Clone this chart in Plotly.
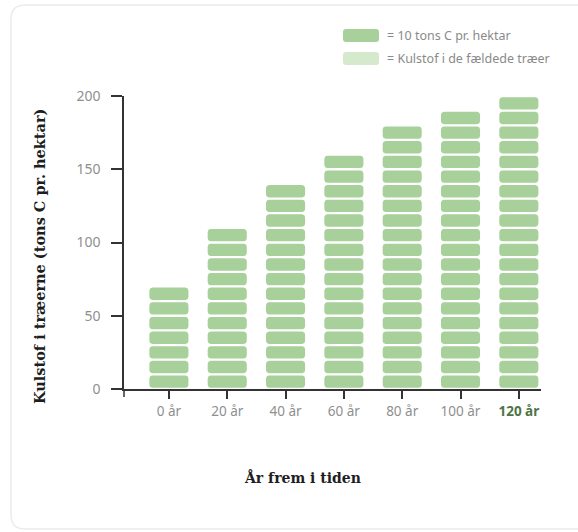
import math
import plotly.graph_objects as go

# ---- data -------------------------------------------------------------
years = ["0 år", "20 år", "40 år", "60 år", "80 år", "100 år", "120 år"]
carbon = [70, 110, 140, 160, 180, 190, 200]   # tons C pr. hektar
block = 10                                      # one block = 10 tons C pr. hektar
y_ticks = [0, 50, 100, 150, 200]
legend_labels = ["= 10 tons C pr. hektar", "= Kulstof i de fældede træer"]

# ---- style --------------------------------------------------------------
W, H = 578, 532
M = dict(l=124, r=37, t=96, b=143)
X_RANGE = [-0.77, 6.38]
Y_RANGE = [0, 200]
GREEN = "#a8d09a"
LIGHT_GREEN = "#d5eacd"
AXIS = "#333333"
TICK_GREY = "#8f8f8f"
SANS = "Noto Sans, Open Sans, sans-serif"
SERIF = "DejaVu Serif, Liberation Serif, serif"

plot_w = W - M["l"] - M["r"]
plot_h = H - M["t"] - M["b"]
px_x = plot_w / (X_RANGE[1] - X_RANGE[0])   # pixels per category step
px_y = plot_h / (Y_RANGE[1] - Y_RANGE[0])   # pixels per ton


def rounded_rect(x0, x1, y0, y1, rx, ry, n=5):
    """Closed outline of a rounded rectangle (data units)."""
    xs, ys = [], []
    corners = [
        (x1 - rx, y1 - ry, 0.0),
        (x0 + rx, y1 - ry, 0.5 * math.pi),
        (x0 + rx, y0 + ry, math.pi),
        (x1 - rx, y0 + ry, 1.5 * math.pi),
    ]
    for cx, cy, a0 in corners:
        for i in range(n + 1):
            a = a0 + (math.pi / 2) * i / n
            xs.append(cx + rx * math.cos(a))
            ys.append(cy + ry * math.sin(a))
    xs.append(xs[0])
    ys.append(ys[0])
    return xs, ys


bar_w = 0.67
gap = 1.6
rx = 3.0 / px_x
ry = 3.0 / px_y

seg_x, seg_y = [], []
for i, total in enumerate(carbon):
    for k in range(int(total // block)):
        xs, ys = rounded_rect(i - bar_w / 2, i + bar_w / 2,
                              k * block + gap / 2, (k + 1) * block - gap / 2,
                              rx, ry)
        seg_x += xs + [None]
        seg_y += ys + [None]

fig = go.Figure()
fig.add_trace(go.Scatter(
    x=seg_x, y=seg_y, mode="lines", fill="toself",
    fillcolor=GREEN, line=dict(width=0, color=GREEN),
    hoverinfo="skip", showlegend=False,
))


def px_to_paper(px, py):
    return (px - M["l"]) / plot_w, (H - M["b"] - py) / plot_h


def pt(x, y):
    a, b = px_to_paper(x, y)
    return f"{a:.5f},{b:.5f}"


def paper_round_rect(px0, py0, px1, py1, r):
    """SVG path of a rounded rectangle given in pixels, expressed in paper units."""
    return (f"M{pt(px0 + r, py0)} L{pt(px1 - r, py0)} Q{pt(px1, py0)} {pt(px1, py0 + r)} "
            f"L{pt(px1, py1 - r)} Q{pt(px1, py1)} {pt(px1 - r, py1)} "
            f"L{pt(px0 + r, py1)} Q{pt(px0, py1)} {pt(px0, py1 - r)} "
            f"L{pt(px0, py0 + r)} Q{pt(px0, py0)} {pt(px0 + r, py0)} Z")


shapes = []
# card outline: top, left and bottom edges; the right edge lies beyond the page
cl, ct, cb, cr = 11, 5, 529, 14
card = (f"M{pt(W + 20, ct)} L{pt(cl + cr, ct)} Q{pt(cl, ct)} {pt(cl, ct + cr)} "
        f"L{pt(cl, cb - cr)} Q{pt(cl, cb)} {pt(cl + cr, cb)} L{pt(W + 20, cb)}")
shapes.append(dict(type="path", xref="paper", yref="paper", layer="below",
                   path=card, line=dict(color="#ececec", width=1.5)))
# y-axis line continues a little below the x-axis
_, y_low = px_to_paper(0, H - M["b"] + 8)
shapes.append(dict(type="line", xref="paper", yref="paper", x0=0, x1=0,
                   y0=0, y1=y_low, line=dict(color=AXIS, width=1.5)))

# legend swatches and texts
annotations = []
for j, (lab, col) in enumerate(zip(legend_labels, [GREEN, LIGHT_GREEN])):
    top = 29 + 23 * j
    shapes.append(dict(type="path", xref="paper", yref="paper",
                       path=paper_round_rect(343, top, 379, top + 13, 3),
                       line=dict(width=0), fillcolor=col))
    ax, ay = px_to_paper(385, top + 6.5)
    annotations.append(dict(xref="paper", yref="paper", x=ax, y=ay,
                            xanchor="left", yanchor="middle", showarrow=False,
                            text=lab, font=dict(family=SANS, size=12.5, color="#8a8a8a")))

# axis titles
tx, ty = px_to_paper(39, 257)
annotations.append(dict(xref="paper", yref="paper", x=tx, y=ty, textangle=-90,
                        xanchor="center", yanchor="middle", showarrow=False,
                        text="<b>Kulstof i træerne (tons C pr. hektar)</b>",
                        font=dict(family=SERIF, size=14.5, color="#1e1e1e")))
tx, ty = px_to_paper(302, 477)
annotations.append(dict(xref="paper", yref="paper", x=tx, y=ty,
                        xanchor="center", yanchor="middle", showarrow=False,
                        text="<b>År frem i tiden</b>",
                        font=dict(family=SERIF, size=14, color="#1e1e1e")))

tick_text = [f"<span style='color:{TICK_GREY}'>{y}</span>" for y in years[:-1]]
tick_text.append(f"<b><span style='color:#4f7446'>{years[-1]}</span></b>")

fig.update_layout(
    width=W, height=H, margin=M,
    paper_bgcolor="white", plot_bgcolor="rgba(0,0,0,0)",
    showlegend=False, shapes=shapes, annotations=annotations,
    xaxis=dict(range=X_RANGE, tickmode="array", tickvals=list(range(len(years))),
               ticktext=tick_text, showgrid=False, zeroline=False,
               showline=True, linecolor=AXIS, linewidth=1.5,
               ticks="outside", ticklen=8, tickwidth=1.5, tickcolor=AXIS,
               ticklabelstandoff=1,
               tickfont=dict(family=SANS, size=13.5, color=TICK_GREY), fixedrange=True),
    yaxis=dict(range=Y_RANGE, tickmode="array", tickvals=y_ticks,
               showgrid=False, zeroline=False,
               showline=True, linecolor=AXIS, linewidth=1.5,
               ticks="outside", ticklen=11, tickwidth=1.5, tickcolor=AXIS,
               ticklabelstandoff=8,
               tickfont=dict(family=SANS, size=14, color=TICK_GREY), fixedrange=True),
)

fig.write_html("out.html")
